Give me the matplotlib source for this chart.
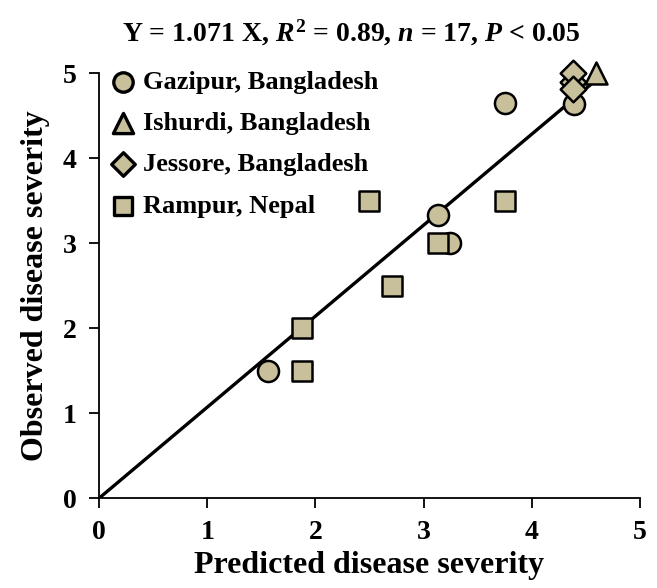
import matplotlib
matplotlib.use("Agg")
import matplotlib.pyplot as plt
import numpy as np

plt.rcParams['font.family'] = ['Liberation Serif', 'DejaVu Serif']
plt.rcParams['font.weight'] = 'bold'
plt.rcParams['mathtext.fontset'] = 'custom'
plt.rcParams['mathtext.rm'] = 'Liberation Serif:bold'
plt.rcParams['mathtext.it'] = 'Liberation Serif:bold:italic'
plt.rcParams['mathtext.bf'] = 'Liberation Serif:bold'

gazipur_x = [1.56, 3.13, 3.24, 3.75, 4.39]
gazipur_y = [1.50, 3.33, 3.00, 4.65, 4.64]
ishurdi_x = [4.59]
ishurdi_y = [5.00]
jessore_x = [4.38, 4.38, 4.38]
jessore_y = [4.90, 5.00, 4.81]
rampur_x = [2.50, 3.75, 3.13, 2.71, 1.88, 1.88]
rampur_y = [3.50, 3.50, 3.00, 2.50, 2.00, 1.50]
slope = 1.071
fit_x = [0.0, 4.55]

fill = '#C8BF9B'

fig = plt.figure(figsize=(6.57, 5.88), dpi=100)
ax = fig.add_axes([0.1507, 0.1526, 0.8233, 0.7227])

fx = np.array(fit_x)
ax.plot(fx, slope * fx, color='black', lw=2.4, zorder=2)

kw = dict(c=fill, edgecolors='black', linewidths=1.8, clip_on=False, zorder=3)
ax.scatter(gazipur_x, gazipur_y, marker='o', s=230, label='Gazipur, Bangladesh', **kw)
ax.scatter(ishurdi_x, ishurdi_y, marker='^', s=250, label='Ishurdi, Bangladesh', **kw)
ax.scatter(jessore_x, jessore_y, marker='D', s=170, label='Jessore, Bangladesh', **kw)
ax.scatter(rampur_x, rampur_y, marker='s', s=220, label='Rampur, Nepal', **kw)

ax.set_xlim(0, 5)
ax.set_ylim(0, 5)
ax.set_xticks(range(6))
ax.set_yticks(range(6))
for s in ['top', 'right']:
    ax.spines[s].set_visible(False)
for s in ['left', 'bottom']:
    ax.spines[s].set_linewidth(1.3)
ax.tick_params(direction='out', length=7, width=1.3, labelsize=20, pad=9)
for lab in ax.get_xticklabels() + ax.get_yticklabels():
    lab.set_fontweight('bold')

ax.set_xlabel('Predicted disease severity', fontsize=23, fontweight='bold', labelpad=4)
ax.set_ylabel('Observed disease severity', fontsize=23, fontweight='bold', labelpad=9)
fig.text(351 / 657, 1 - 33 / 588,
         r'Y = 1.071 X, $\mathit{R}^{\mathbf{2}}$ = 0.89, $\mathit{n}$ = 17, $\mathit{P}$ < 0.05',
         fontsize=20, fontweight='bold', ha='center', va='center')

leg = ax.legend(loc='upper left', bbox_to_anchor=(-0.019, 1.045), frameon=False,
                prop={'family': 'Liberation Serif', 'weight': 'bold', 'size': 19},
                handletextpad=0.05, labelspacing=0.68, borderaxespad=0.2,
                markerscale=0.92, handlelength=1.4)
for h in leg.legend_handles:
    h.set_linewidth(2.4)

fig.savefig('out.png', dpi=100)
